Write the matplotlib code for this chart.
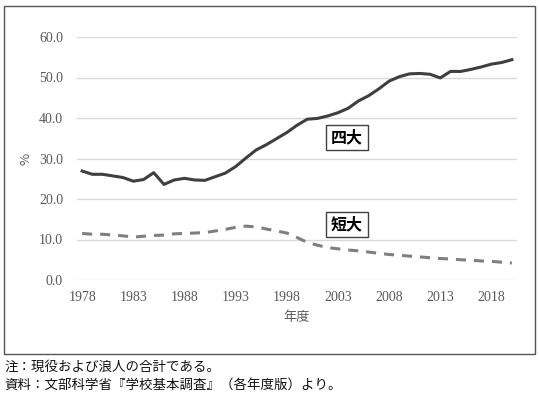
import matplotlib.pyplot as plt
from matplotlib.patches import Rectangle

plt.rcParams['font.family'] = ['Noto Sans CJK JP', 'DejaVu Sans']

# 年度 (1978-2020)
years = list(range(1978, 2021))

# 四大 進学率 (%)
univ = [26.9, 26.1, 26.1, 25.7, 25.3, 24.4, 24.8, 26.5, 23.6, 24.7,
        25.1, 24.7, 24.6, 25.5, 26.4, 28.0, 30.1, 32.1, 33.4, 34.9,
        36.4, 38.2, 39.7, 39.9, 40.5, 41.3, 42.4, 44.2, 45.5, 47.2,
        49.1, 50.2, 50.9, 51.0, 50.8, 49.9, 51.5, 51.5, 52.0, 52.6,
        53.3, 53.7, 54.4]

# 短大 進学率 (%)
junior = [11.5, 11.3, 11.3, 11.1, 10.9, 10.6, 10.8, 11.0, 11.1, 11.4,
          11.5, 11.6, 11.7, 12.1, 12.5, 13.0, 13.3, 13.1, 12.6, 12.1,
          11.6, 10.5, 9.3, 8.6, 8.0, 7.7, 7.4, 7.2, 6.9, 6.6,
          6.3, 6.1, 5.9, 5.7, 5.5, 5.3, 5.2, 5.0, 4.9, 4.7,
          4.6, 4.4, 4.2]

tick_years = [1978, 1983, 1988, 1993, 1998, 2003, 2008, 2013, 2018]
y_ticks = [0, 10, 20, 30, 40, 50, 60]

fig = plt.figure(figsize=(5.39, 3.96), dpi=100)

# outer frame
fig.patches.append(Rectangle((4 / 539, 1 - 354 / 396), 531 / 539, 348 / 396,
                             transform=fig.transFigure, fill=False,
                             edgecolor='#555555', linewidth=1.0))

ax = fig.add_axes([77 / 539, 1 - 280 / 396, 440 / 539, 243 / 396])

x = list(range(len(years)))
ax.plot(x, univ, color='#3f3f3f', linewidth=2.2, clip_on=False)
ax.plot(x, junior, color='#7f7f7f', linewidth=2.2, dashes=(3.3, 2.6),
        clip_on=False)

ax.set_xlim(-0.5, len(years) - 0.5)
ax.set_ylim(0, 60)
ax.set_yticks(y_ticks)
ax.set_yticklabels([f'{v:.1f}' for v in y_ticks], family='Liberation Serif',
                   fontsize=10, color='#595959')
ax.set_xticks([years.index(t) for t in tick_years])
ax.set_xticklabels([str(t) for t in tick_years], family='Liberation Serif',
                   fontsize=10, color='#595959')
ax.tick_params(length=0)
ax.tick_params(axis='y', pad=10)
ax.tick_params(axis='x', pad=8)
ax.grid(axis='y', color='#d9d9d9', linewidth=1.0)
ax.set_axisbelow(True)
for s in ax.spines.values():
    s.set_visible(False)

ax.set_xlabel('年度', fontsize=9.5, color='#595959', labelpad=5)
ax.set_ylabel('%', fontsize=9.5, color='#595959', labelpad=5)

# series labels
box = dict(boxstyle='square,pad=0.3', facecolor='white',
           edgecolor='#404040', linewidth=1.0)
ax.text(years.index(2004) - 0.1, 35.2, '四大', fontsize=11.5, fontweight='bold',
        ha='center', va='center', bbox=box)
ax.text(years.index(2004) - 0.1, 13.7, '短大', fontsize=11.5, fontweight='bold',
        ha='center', va='center', bbox=box)

fig.text(4 / 539, 1 - 367 / 396, '注：現役および浪人の合計である。',
         fontsize=9.7, va='center', color='#111111')
fig.text(4 / 539, 1 - 385 / 396, '資料：文部科学省『学校基本調査』（各年度版）より。',
         fontsize=9.7, va='center', color='#111111')

plt.savefig('out.png', dpi=100)
